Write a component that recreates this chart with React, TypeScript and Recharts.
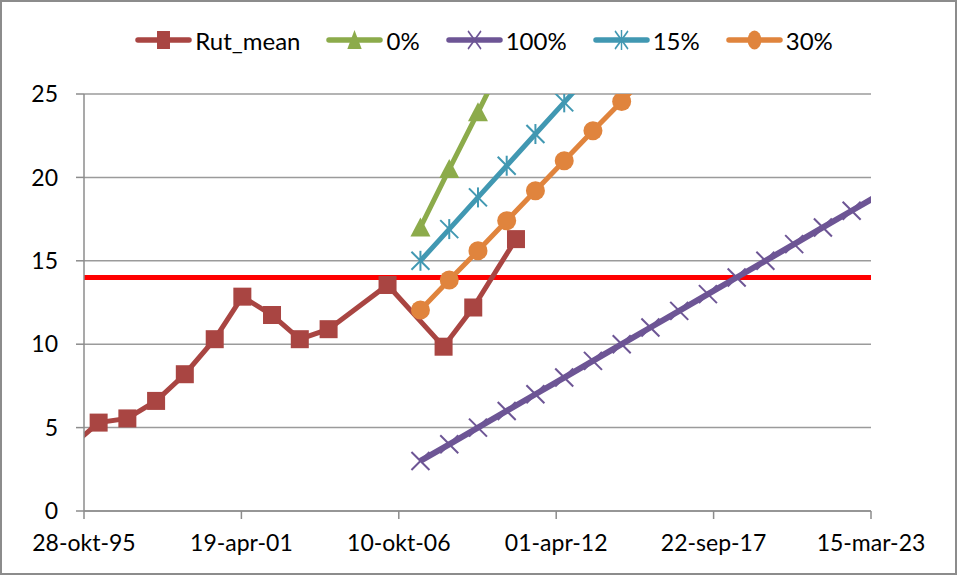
import { LineChart, Line, XAxis, YAxis, CartesianGrid, ReferenceLine, Legend } from 'recharts';

const rutDates = ['1995-05-01', '1996-05-01', '1997-05-01', '1998-05-01', '1999-05-01', '2000-05-15', '2001-05-01', '2002-05-13', '2003-05-01', '2004-05-01', '2006-05-20', '2008-05-01', '2009-05-13', '2010-11-07'];
const rutValues = [3.8, 5.3, 5.55, 6.6, 8.2, 10.3, 12.85, 11.75, 10.3, 10.9, 13.55, 9.85, 12.2, 16.3];

// scenario projections, one point per year starting mid 2007
const scenarioYears = [2007, 2008, 2009, 2010, 2011, 2012, 2013, 2014, 2015, 2016, 2017, 2018, 2019, 2020, 2021, 2022, 2023];
const pct0 = [17.0, 20.5, 23.9, 27.4];
const pct100 = [3, 4, 5, 6, 7, 8, 9, 10, 11, 12, 13, 14, 15, 16, 17, 18, 19];
const pct15 = [15.0, 16.9, 18.8, 20.7, 22.6, 24.5, 26.4];
const pct30 = [12.05, 13.85, 15.6, 17.4, 19.2, 21.0, 22.8, 24.55, 26.35];

const tickDates = ['1995-10-28', '2001-04-19', '2006-10-10', '2012-04-01', '2017-09-22', '2023-03-15'];
const tickLabels = ['28-okt-95', '19-apr-01', '10-okt-06', '01-apr-12', '22-sep-17', '15-mar-23'];
const yTicks = [0, 5, 10, 15, 20, 25];
const threshold = 14;

const FONT = 'Lato, "Liberation Sans", sans-serif';

const day = (s: string) => Date.parse(s + 'T00:00:00Z') / 86400000;
const xTicks = tickDates.map(day);
const xDomain = [xTicks[0], xTicks[xTicks.length - 1]];

const rutData = rutDates.map((d, i) => ({ t: day(d), v: rutValues[i] }));
const scen = (vals: number[]) => vals.map((v, i) => ({ t: day(`${scenarioYears[i]}-07-12`), v }));

const series = [
  { name: 'Rut_mean', data: rutData, color: '#A94542', kind: 'square', width: 5 },
  { name: '0%', data: scen(pct0), color: '#8CAB4B', kind: 'triangle', width: 5 },
  { name: '100%', data: scen(pct100), color: '#6D5595', kind: 'x', width: 6 },
  { name: '15%', data: scen(pct15), color: '#4198B2', kind: 'star', width: 5 },
  { name: '30%', data: scen(pct30), color: '#E0843D', kind: 'circle', width: 5 },
];

function Marker({ kind, color, x, y, sx = 1 }: any) {
  let shape;
  if (kind === 'square') shape = <rect x={-9} y={-9} width={18} height={18} fill={color} />;
  else if (kind === 'triangle') shape = <polygon points="0,-10 10,9 -10,9" fill={color} />;
  else if (kind === 'circle') shape = <circle r={9.5} fill={color} />;
  else if (kind === 'x')
    shape = (
      <g stroke={color} strokeWidth={2}>
        <line x1={-9} y1={-9} x2={9} y2={9} />
        <line x1={-9} y1={9} x2={9} y2={-9} />
      </g>
    );
  else
    shape = (
      <g stroke={color} strokeWidth={2}>
        <line x1={-9} y1={-9} x2={9} y2={9} />
        <line x1={-9} y1={9} x2={9} y2={-9} />
        <line x1={0} y1={-10} x2={0} y2={10} />
      </g>
    );
  return <g transform={`translate(${x},${y}) scale(${sx},1)`}>{shape}</g>;
}

const makeDot = (kind: string, color: string) => (props: any) => {
  const { cx, cy, payload, index } = props;
  const k = `${kind}-${index}`;
  if (cx == null || cy == null || payload.t < xDomain[0] || payload.t > xDomain[1]) return <g key={k} />;
  return <Marker key={k} kind={kind} color={color} x={cx} y={cy} />;
};

function ChartLegend() {
  return (
    <div style={{ display: 'flex', justifyContent: 'center', gap: 26, paddingLeft: 10, fontFamily: FONT, fontSize: 24, color: '#000' }}>
      {series.map((s) => (
        <div key={s.name} style={{ display: 'flex', alignItems: 'center', gap: 3 }}>
          <svg width={57} height={32}>
            <line x1={3} y1={16} x2={54} y2={16} stroke={s.color} strokeWidth={5.5} strokeLinecap="round" />
            <Marker kind={s.kind} color={s.color} x={28.5} y={16} sx={0.72} />
          </svg>
          <span>{s.name}</span>
        </div>
      ))}
    </div>
  );
}

export default function App() {
  return (
    <div style={{ position: 'relative', width: 958, height: 577, background: '#fff' }}>
      <style>{'body{margin:0}'}</style>
      <LineChart width={958} height={577} margin={{ top: 94, right: 87, left: 0, bottom: 26 }}>
        <CartesianGrid vertical={false} stroke="#9b9b9b" strokeWidth={1.5} />
        <XAxis
          dataKey="t"
          type="number"
          domain={xDomain}
          ticks={xTicks}
          interval={0}
          allowDataOverflow
          height={40}
          tickFormatter={(t: number) => tickLabels[xTicks.indexOf(t)] ?? ''}
          tick={{ fontSize: 23, fill: '#000', fontFamily: FONT }}
          stroke="#8c8c8c"
          strokeWidth={1.5}
          tickSize={8}
          tickMargin={16}
        />
        <YAxis
          type="number"
          domain={[0, 25]}
          ticks={yTicks}
          allowDataOverflow
          width={84}
          tick={{ fontSize: 23, fill: '#000', fontFamily: FONT }}
          stroke="#8c8c8c"
          strokeWidth={1.5}
          tickSize={8}
          tickMargin={18}
        />
        <ReferenceLine y={threshold} stroke="#ff0000" strokeWidth={5} />
        {series.map((s) => (
          <Line
            key={s.name}
            data={s.data}
            dataKey="v"
            name={s.name}
            type="linear"
            stroke={s.color}
            strokeWidth={s.width}
            dot={makeDot(s.kind, s.color)}
            activeDot={false}
            isAnimationActive={false}
          />
        ))}
        <Legend
          verticalAlign="middle"
          align="center"
          layout="horizontal"
          wrapperStyle={{ top: 24, left: 0, width: 958 }}
          content={() => <ChartLegend />}
        />
      </LineChart>
      <div
        style={{
          position: 'absolute',
          left: 0,
          top: 0,
          width: 957,
          height: 575,
          border: '2px solid #8c8c8c',
          boxSizing: 'border-box',
          pointerEvents: 'none',
        }}
      />
    </div>
  );
}
